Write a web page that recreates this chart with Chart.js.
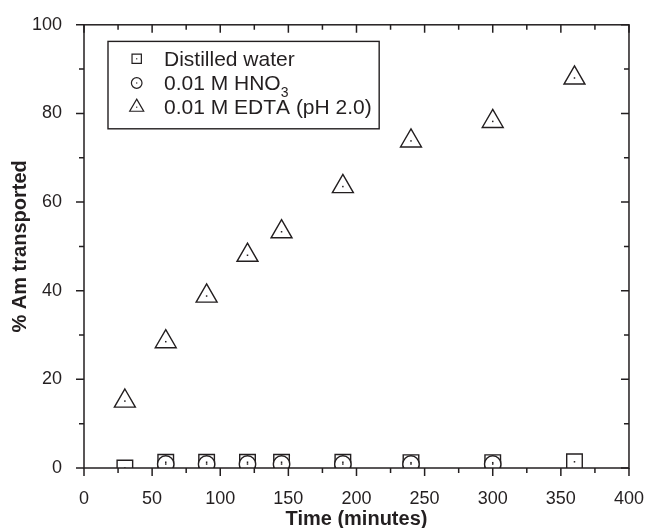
<!DOCTYPE html>
<html>
<head>
<meta charset="utf-8">
<script src="https://cdn.jsdelivr.net/npm/chart.js@4"></script>
<style>
  html, body { margin: 0; padding: 0; background: #fff; }
</style>
</head>
<body>
<canvas id="chart" width="656" height="528"></canvas>
<script>
// values
const waterTimes = [30, 60, 90, 120, 145, 190, 240, 300, 360];
const waterValues = [0.0, 1.3, 1.3, 1.3, 1.3, 1.3, 1.2, 1.2, 1.4];
const hno3Times = [60, 90, 120, 145, 190, 240, 300];
const hno3Values = [0.9, 0.9, 0.9, 0.9, 0.9, 0.9, 0.9];
const edtaTimes = [30, 60, 90, 120, 145, 190, 240, 300, 360];
const edtaValues = [15.1, 28.5, 38.8, 48.0, 53.3, 63.5, 73.8, 78.2, 88.0];
const seriesNames = ['Distilled water', '0.01 M HNO₃', '0.01 M EDTA (pH 2.0)'];
const seriesStyles = ['rect', 'circle', 'triangle'];
const xTickStep = 50, xMinorStep = 25;
const yTickStep = 20, yMinorStep = 10;

const ink = '#231f20';
const family = "'Liberation Sans', Arial, sans-serif";

function toPoints(xs, ys) {
    return xs.map((t, i) => ({ x: t, y: ys[i] }));
}

function drawSymbol(ctx, style, radius, x, y) {
    const opts = { pointStyle: style, radius: radius, rotation: 0, borderWidth: 1.3 };
    if (Chart.helpers && Chart.helpers.drawPoint) {
        Chart.helpers.drawPoint(ctx, opts, x, y);
        return;
    }
    ctx.beginPath();
    if (style === 'circle') {
        ctx.arc(x, y, radius, 0, Math.PI * 2);
    } else if (style === 'rect') {
        const s = radius * Math.SQRT1_2;
        ctx.rect(x - s, y - s, 2 * s, 2 * s);
    } else {
        for (let k = 0; k < 3; k++) {
            const a = k * 2 * Math.PI / 3;
            ctx.lineTo(x + Math.sin(a) * radius, y - Math.cos(a) * radius);
        }
        ctx.closePath();
    }
    ctx.fill();
    ctx.stroke();
}

// frame + ticks on all four sides (bottom/left outward, top/right inward)
const framePlugin = {
    id: 'frame',
    afterDraw(chart) {
        const { ctx, chartArea: a, scales: { x, y } } = chart;
        ctx.save();
        ctx.strokeStyle = ink;
        ctx.lineWidth = 1.5;
        ctx.strokeRect(a.left, a.top, a.right - a.left, a.bottom - a.top);
        ctx.beginPath();
        for (let v = x.min; v <= x.max; v += xMinorStep) {
            const px = x.getPixelForValue(v);
            const len = v % xTickStep === 0 ? 8 : 5;
            ctx.moveTo(px, a.bottom); ctx.lineTo(px, a.bottom + len);
            ctx.moveTo(px, a.top); ctx.lineTo(px, a.top + len);
        }
        for (let v = y.min; v <= y.max; v += yMinorStep) {
            const py = y.getPixelForValue(v);
            const len = v % yTickStep === 0 ? 8 : 5;
            ctx.moveTo(a.left, py); ctx.lineTo(a.left - len, py);
            ctx.moveTo(a.right, py); ctx.lineTo(a.right - len, py);
        }
        ctx.stroke();
        ctx.restore();
    }
};

// little dot in the middle of every marker
const dotPlugin = {
    id: 'dots',
    afterDatasetsDraw(chart) {
        const { ctx, chartArea: a } = chart;
        ctx.save();
        ctx.beginPath();
        ctx.rect(a.left, a.top, a.right - a.left, a.bottom - a.top);
        ctx.clip();
        ctx.fillStyle = ink;
        chart.data.datasets.forEach((ds, i) => {
            chart.getDatasetMeta(i).data.forEach(el => {
                ctx.fillRect(el.x - 0.75, el.y - 0.75, 1.5, 1.5);
            });
        });
        ctx.restore();
    }
};

// boxed legend inside the plot, with subscript handling
const subDigits = { '₀': '0', '₁': '1', '₂': '2', '₃': '3', '₄': '4' };
const legendPlugin = {
    id: 'boxLegend',
    afterDraw(chart) {
        const { ctx, chartArea: a } = chart;
        const left = a.left + 24, top = a.top + 16.6;
        const rowGap = 24.2, symX = left + 28.7, textX = left + 56;
        const radii = [6.6, 5.3, 8.1];
        ctx.save();
        ctx.font = '21px ' + family;
        let maxW = 0;
        seriesNames.forEach(n => { maxW = Math.max(maxW, ctx.measureText(n).width); });
        const w = textX - left + maxW + 9, h = 87.4;
        ctx.strokeStyle = ink;
        ctx.lineWidth = 1.4;
        ctx.strokeRect(left, top, w, h);

        seriesNames.forEach((name, i) => {
            const cy = top + 17.4 + i * rowGap;
            ctx.fillStyle = '#fff';
            ctx.strokeStyle = ink;
            ctx.lineWidth = 1.2;
            drawSymbol(ctx, seriesStyles[i], radii[i], symX, cy);
            ctx.fillStyle = ink;
            ctx.fillRect(symX - 0.6, cy - 0.6, 1.2, 1.2);

            let x = textX;
            const base = cy + 6.8;
            ctx.textBaseline = 'alphabetic';
            ctx.textAlign = 'left';
            for (const ch of name) {
                if (subDigits[ch]) {
                    ctx.font = '14px ' + family;
                    ctx.fillText(subDigits[ch], x, base + 7);
                    x += ctx.measureText(subDigits[ch]).width;
                } else {
                    ctx.font = '21px ' + family;
                    ctx.fillText(ch, x, base);
                    x += ctx.measureText(ch).width;
                }
            }
        });
        ctx.restore();
    }
};

const markerBase = {
    showLine: false,
    borderColor: ink,
    backgroundColor: '#fff',
    pointBackgroundColor: '#fff',
    pointBorderColor: ink,
    pointBorderWidth: 1.4,
    clip: 0
};

new Chart(document.getElementById('chart'), {
    type: 'scatter',
    data: {
        datasets: [
            Object.assign({}, markerBase, {
                label: seriesNames[0], data: toPoints(waterTimes, waterValues),
                pointStyle: 'rect', pointRadius: 11, order: 3
            }),
            Object.assign({}, markerBase, {
                label: seriesNames[1], data: toPoints(hno3Times, hno3Values),
                pointStyle: 'circle', pointRadius: 8.2, order: 2
            }),
            Object.assign({}, markerBase, {
                label: seriesNames[2], data: toPoints(edtaTimes, edtaValues),
                pointStyle: 'triangle', pointRadius: 12.1, order: 1
            })
        ]
    },
    options: {
        responsive: false,
        animation: false,
        devicePixelRatio: 1,
        layout: { padding: { top: 23, right: 18, bottom: 0, left: 0 } },
        plugins: {
            legend: { display: false },
            tooltip: { enabled: false }
        },
        scales: {
            x: {
                type: 'linear',
                min: 0,
                max: 400,
                afterFit: s => { s.height = 60; },
                grid: { display: false },
                border: { display: false },
                ticks: { stepSize: xTickStep, padding: 12, maxRotation: 0, color: ink, font: { family: family, size: 18 } },
                title: {
                    display: true, text: 'Time (minutes)', color: ink, padding: 0,
                    font: { family: family, size: 20, weight: 'bold', lineHeight: 0.9 }
                }
            },
            y: {
                type: 'linear',
                min: 0,
                max: 100,
                afterFit: s => { s.width = 84; },
                grid: { display: false },
                border: { display: false },
                ticks: { stepSize: yTickStep, padding: 14, color: ink, font: { family: family, size: 18 } },
                title: {
                    display: true, text: '% Am transported', color: ink, padding: { top: 10, bottom: 0 },
                    font: { family: family, size: 20, weight: 'bold', lineHeight: 1 }
                }
            }
        }
    },
    plugins: [framePlugin, dotPlugin, legendPlugin]
});
</script>
</body>
</html>
